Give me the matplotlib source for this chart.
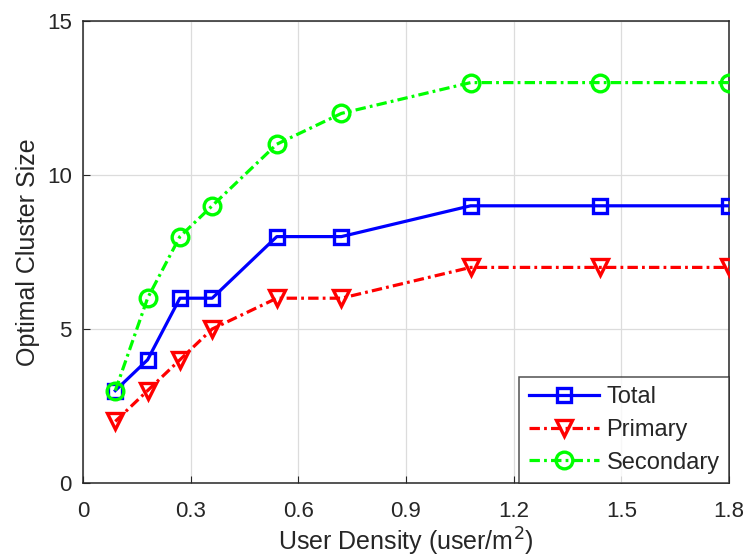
import matplotlib
matplotlib.use("Agg")
import matplotlib.pyplot as plt

plt.rcParams['font.family'] = ['Liberation Sans', 'DejaVu Sans']
plt.rcParams['lines.scale_dashes'] = False

density = [0.09, 0.18, 0.27, 0.36, 0.54, 0.72, 1.08, 1.44, 1.8]
total = [3, 4, 6, 6, 8, 8, 9, 9, 9]
primary = [2, 3, 4, 5, 6, 6, 7, 7, 7]
secondary = [3, 6, 8, 9, 11, 12, 13, 13, 13]
xticks = [0, 0.3, 0.6, 0.9, 1.2, 1.5, 1.8]
xtick_labels = ['0', '0.3', '0.6', '0.9', '1.2', '1.5', '1.8']
yticks = [0, 5, 10, 15]

fig = plt.figure(figsize=(7.49, 5.6), dpi=100)
ax = fig.add_axes([0.1108, 0.1375, 0.8625, 0.825])

lw = 2.3
mew = 2.4
dashdot = (0, (7.5, 3.0, 2.0, 3.0))
ax.plot(density, total, color='#0000ff', lw=lw, ls='-', marker='s', ms=9.5,
        mfc='none', mew=mew, label='Total', zorder=3)
ax.plot(density, primary, color='#ff0000', lw=lw, ls=dashdot, marker='v', ms=12,
        mfc='none', mew=mew, label='Primary', zorder=3)
ax.plot(density, secondary, color='#00ff00', lw=lw, ls=dashdot, marker='o', ms=12,
        mfc='none', mew=mew, label='Secondary', zorder=3)

ax.set_xlim(0, 1.8)
ax.set_ylim(0, 15)
ax.set_xticks(xticks)
ax.set_xticklabels(xtick_labels)
ax.set_yticks(yticks)
ax.tick_params(direction='in', labelsize=16, colors='#262626', length=5)
ax.tick_params(axis='x', pad=13)
ax.tick_params(axis='y', pad=8)
ax.grid(True, color='#dcdcdc', lw=0.9)
ax.set_axisbelow(True)
for s in ax.spines.values():
    s.set_color('#262626')
    s.set_linewidth(1.1)

ax.set_xlabel('User Density (user/m$^2$)', fontsize=18, color='#262626', labelpad=3)
ax.set_ylabel('Optimal Cluster Size', fontsize=18, color='#262626', labelpad=5)

leg = ax.legend(loc='lower right', fontsize=17, frameon=True, fancybox=False,
                edgecolor='#262626', borderaxespad=0, handlelength=3.0,
                handletextpad=0.3, borderpad=0.4, labelspacing=0.45)
leg.get_frame().set_linewidth(1.1)
for t in leg.get_texts():
    t.set_color('#262626')

fig.savefig('out.png', dpi=100)
